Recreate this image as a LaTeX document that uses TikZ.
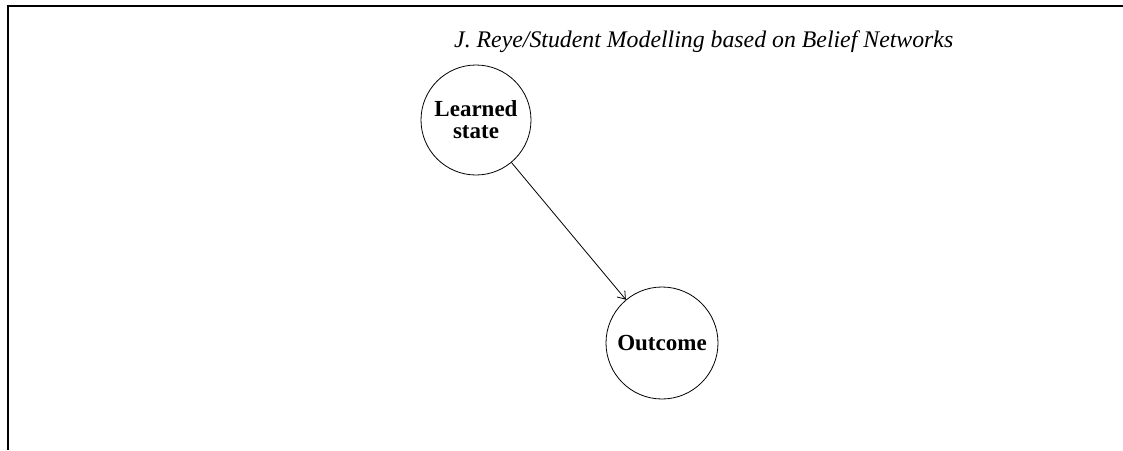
\documentclass[tikz,border=0pt]{standalone}
\usepackage{fontspec}
\setmainfont{Liberation Serif}
\usetikzlibrary{arrows.meta}
\begin{document}
\begin{tikzpicture}[x=1pt,y=-1pt,
  statenode/.style={circle,draw,line width=0.8pt,inner sep=0pt,align=center,
    font=\bfseries\fontsize{23}{22}\selectfont},
  link/.style={line width=0.8pt,-{Straight Barb[length=7pt,width=10pt,line width=0.8pt]}},
  frame/.style={line width=2.4pt}]
\useasboundingbox (0,0) rectangle (1123,450);
\coordinate (fc) at (8,6);
\coordinate (fr) at (1123,6);
\coordinate (fb) at (8,450);
\draw[frame] (fr) -- (fc) -- (fb);
\node[anchor=base west,inner sep=0pt,font=\itshape\fontsize{23.8}{26}\selectfont] (title) at (454,47) {J. Reye/Student Modelling based on Belief Networks};
\node[statenode,minimum size=110pt] (learned) at (476,120) {Learned\\state};
\node[statenode,minimum size=112pt] (outcome) at (662,343) {Outcome};
\draw[link] (learned) -- (outcome);
\end{tikzpicture}
\end{document}
